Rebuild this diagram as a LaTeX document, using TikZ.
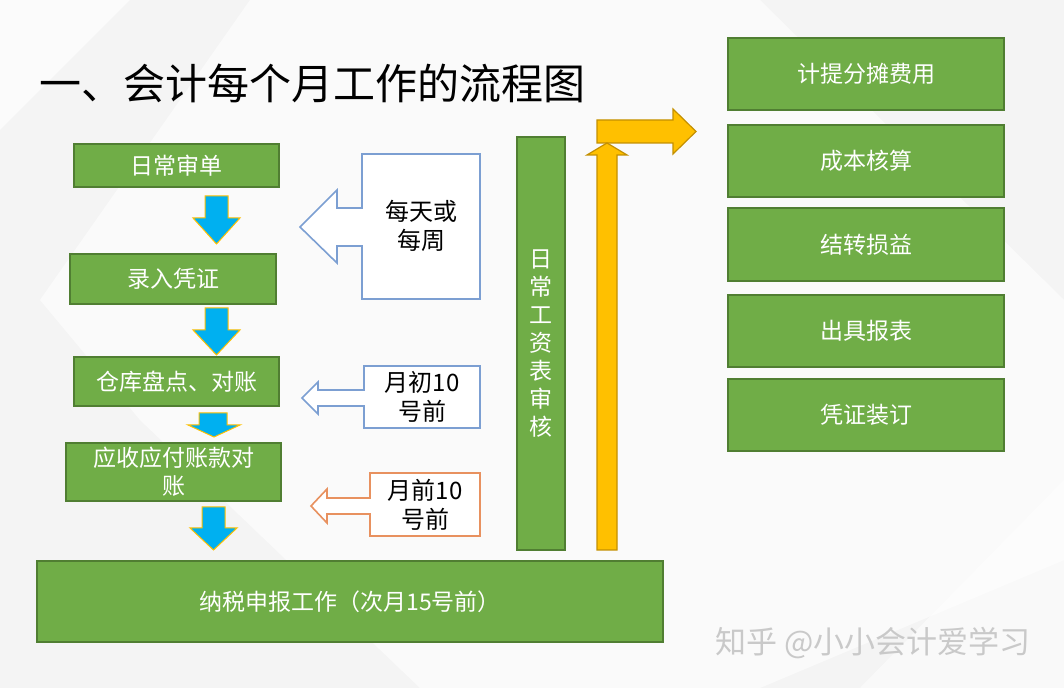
\documentclass[tikz,border=0pt]{standalone}
\usepackage{fontspec}
\newfontfamily\cjk{Noto Sans CJK SC}
\definecolor{boxgreen}{HTML}{70AD47}
\definecolor{boxedge}{HTML}{507E32}
\definecolor{arrowblue}{HTML}{00B0F0}
\definecolor{arrowgold}{HTML}{FFC000}
\definecolor{goldedge}{HTML}{C49000}
\definecolor{calloutblue}{HTML}{7C9FD2}
\definecolor{calloutorange}{HTML}{E8915F}
\definecolor{bggray}{HTML}{F4F4F4}
\definecolor{markgray}{HTML}{C9C9C9}
\begin{document}
\begin{tikzpicture}[x=0.5pt,y=-0.5pt,line width=0.6pt,
  greenbox/.style={draw=boxedge,line width=1pt,fill=boxgreen,text=white,inner sep=0pt,align=center,font=\cjk\fontsize{11.5}{14}\selectfont},
  callout/.style={fill=white,line width=0.8pt},
  calltext/.style={align=center,font=\cjk\fontsize{12}{14.5}\selectfont},
  bluearrow/.style={fill=arrowblue,draw=arrowgold,line width=0.5pt},
  goldarrow/.style={fill=arrowgold,draw=goldedge,line width=0.6pt}]
\useasboundingbox (0,0) rectangle (1064,688);
% background
\fill[bggray] (0,0) rectangle (1064,688);
\fill[white,opacity=0.7] (0,0) -- (130,0) -- (0,130) -- cycle;
\fill[white,opacity=0.6] (250,0) -- (760,0) -- (1064,300) -- (1064,560) -- (760,688) -- (420,688) -- (140,420) -- (40,300) -- cycle;
\fill[white,opacity=0.5] (860,688) -- (1064,480) -- (1064,688) -- cycle;
% title
\node[anchor=west,font=\cjk\fontsize{21}{24}\selectfont] (title) at (32,83) {一、会计每个月工作的流程图};
% left column
\node[greenbox,minimum width=102.5pt,minimum height=21.5pt] (shendan) at (176.5,165.5) {日常审单};
\node[greenbox,minimum width=103pt,minimum height=25pt] (luru) at (173,279) {录入凭证};
\node[greenbox,minimum width=102.5pt,minimum height=24.5pt] (pandian) at (176.5,381.5) {仓库盘点、对账};
\node[greenbox,minimum width=107.5pt,minimum height=29pt] (duizhang) at (173.5,472) {应收应付账款对\\账};
\node[greenbox,minimum width=313pt,minimum height=40.5pt,font=\cjk\fontsize{11.5}{13}\selectfont] (nashui) at (350,601.5) {纳税申报工作（次月15号前）};
\draw[bluearrow] (205,196) -- (228,196) -- (228,218) -- (240,218) -- (216.5,244) -- (193,218) -- (205,218) -- cycle;
\draw[bluearrow] (205,308) -- (228,308) -- (228,330) -- (240,330) -- (216.5,355) -- (193,330) -- (205,330) -- cycle;
\draw[bluearrow] (199,413) -- (227,413) -- (227,425) -- (240,425) -- (214,437) -- (188,425) -- (199,425) -- cycle;
\draw[bluearrow] (202,507) -- (225,507) -- (225,528) -- (237,528) -- (213.5,550) -- (190,528) -- (202,528) -- cycle;
% callouts
\draw[callout,draw=calloutblue] (362,154) -- (480,154) -- (480,299) -- (362,299) -- (362,246) -- (337,246) -- (337,263) -- (300,227) -- (337,190) -- (337,208) -- (362,208) -- cycle;
\node[calltext] (meitian) at (421,226) {每天或\\每周};
\draw[callout,draw=calloutblue] (364,366) -- (480,366) -- (480,428) -- (364,428) -- (364,406) -- (318,406) -- (318,414) -- (302,398) -- (318,382) -- (318,390) -- (364,390) -- cycle;
\node[calltext] (yuechu) at (422,397) {月初10\\号前};
\draw[callout,draw=calloutorange] (370,473) -- (480,473) -- (480,536) -- (370,536) -- (370,514) -- (327,514) -- (327,523) -- (311,506) -- (327,489) -- (327,498) -- (370,498) -- cycle;
\node[calltext] (yueqian) at (425,505) {月前10\\号前};
% payroll column and gold arrows
\node[greenbox,minimum width=24pt,minimum height=206.5pt] (gongzi) at (541,343.5) {日\\常\\工\\资\\表\\审\\核};
\draw[goldarrow] (597,120) -- (673,120) -- (673,109) -- (696,131.5) -- (673,154) -- (673,143) -- (597,143) -- cycle;
\draw[goldarrow] (597,550) -- (617,550) -- (617,155) -- (627,155) -- (607,143) -- (587,155) -- (597,155) -- cycle;
% month end tasks
\node[greenbox,minimum width=138pt,minimum height=36pt] (jiti) at (866,74) {计提分摊费用};
\node[greenbox,minimum width=138pt,minimum height=36pt] (chengben) at (866,161) {成本核算};
\node[greenbox,minimum width=138pt,minimum height=36.5pt] (jiezhuan) at (866,244.5) {结转损益};
\node[greenbox,minimum width=138pt,minimum height=36pt] (baobiao) at (866,331) {出具报表};
\node[greenbox,minimum width=138pt,minimum height=36pt] (zhuangding) at (866,415) {凭证装订};
% watermark
\node[text=markgray,font=\cjk\fontsize{15.5}{17}\selectfont] (mark) at (873,643) {知乎 @小小会计爱学习};
\end{tikzpicture}
\end{document}
